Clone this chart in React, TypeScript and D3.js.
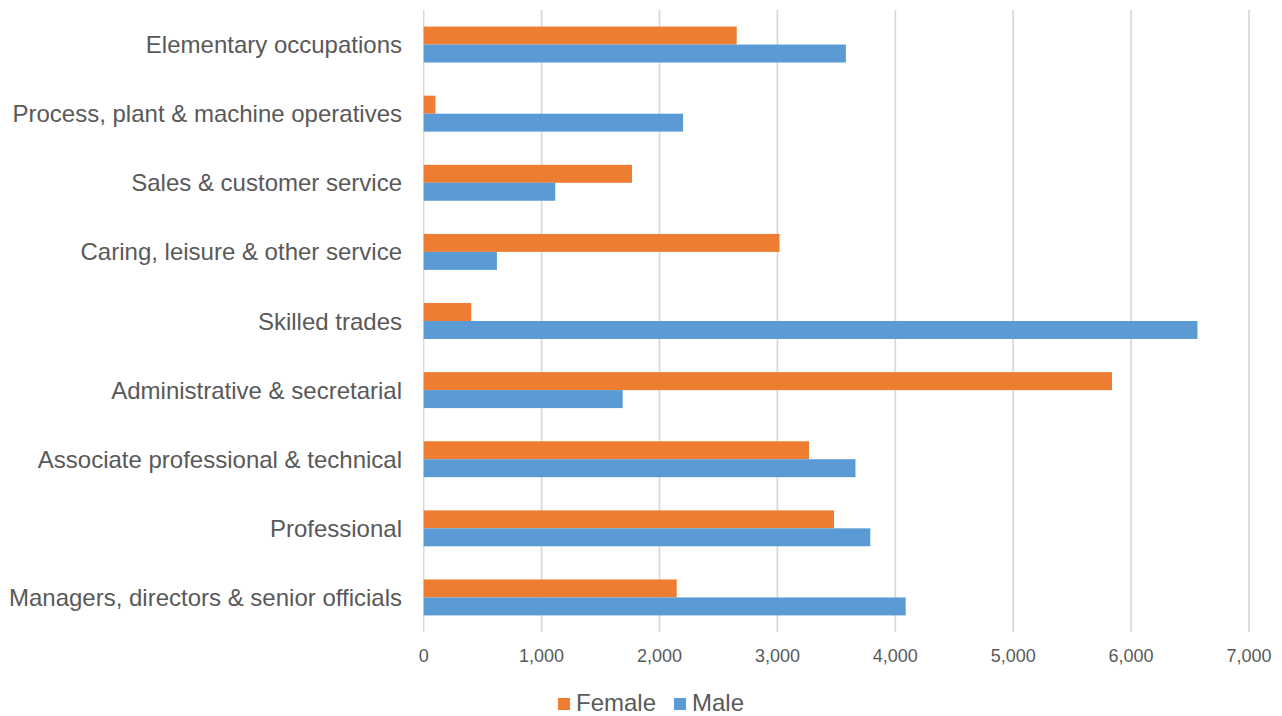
import React from "react";
import * as d3 from "d3";

const categories = [
  "Elementary occupations",
  "Process, plant & machine operatives",
  "Sales & customer service",
  "Caring, leisure & other service",
  "Skilled trades",
  "Administrative & secretarial",
  "Associate professional & technical",
  "Professional",
  "Managers, directors & senior officials",
];
const femaleValues = [2655, 100, 1767, 3018, 403, 5838, 3268, 3480, 2146];
const maleValues = [3581, 2200, 1116, 621, 6563, 1688, 3662, 3788, 4088];
const seriesNames = ["Female", "Male"];
const seriesColors = ["#ED7D31", "#5B9BD5"];
const xTicks = [0, 1000, 2000, 3000, 4000, 5000, 6000, 7000];

const W = 1282;
const H = 716;
const FONT = "'Liberation Sans', Arial, sans-serif";

export default function App() {
  const x = d3.scaleLinear().domain([0, 7000]).range([423.7, 1249]);
  const y = d3
    .scaleBand<string>()
    .domain(categories)
    .range([10, 632])
    .paddingInner(0.48)
    .paddingOuter(0.24);
  const inner = d3
    .scaleBand<string>()
    .domain(seriesNames)
    .range([0, y.bandwidth()]);
  const fmt = d3.format(",");
  const series = [femaleValues, maleValues];

  return (
    <svg
      width={W}
      height={H}
      style={{ position: "absolute", left: 0, top: 0, background: "#fff" }}
      fontFamily={FONT}
    >
      {xTicks.map((t) => (
        <line
          key={"g" + t}
          x1={x(t)}
          x2={x(t)}
          y1={10}
          y2={632}
          stroke="#D9D9D9"
          strokeWidth={t === 0 ? 1.5 : 1.75}
        />
      ))}
      {categories.map((c, i) => (
        <g key={c}>
          {series.map((vals, s) => (
            <rect
              key={s}
              x={x(0)}
              y={(y(c) as number) + (inner(seriesNames[s]) as number)}
              width={x(vals[i]) - x(0)}
              height={inner.bandwidth()}
              fill={seriesColors[s]}
            />
          ))}
          <text
            x={402}
            y={(y(c) as number) + y.bandwidth() / 2 + 8.5}
            textAnchor="end"
            fontSize={24}
            fill="#595959"
          >
            {c}
          </text>
        </g>
      ))}
      {xTicks.map((t) => (
        <text
          key={"t" + t}
          x={x(t)}
          y={657}
          textAnchor="middle"
          dominantBaseline="middle"
          fontSize={18}
          fill="#595959"
        >
          {fmt(t)}
        </text>
      ))}
      <g>
        <rect x={558} y={698} width={12} height={12} fill={seriesColors[0]} />
        <text x={576} y={711} fontSize={24} fill="#595959">
          {seriesNames[0]}
        </text>
        <rect x={674} y={698} width={12} height={12} fill={seriesColors[1]} />
        <text x={692} y={711} fontSize={24} fill="#595959">
          {seriesNames[1]}
        </text>
      </g>
    </svg>
  );
}
